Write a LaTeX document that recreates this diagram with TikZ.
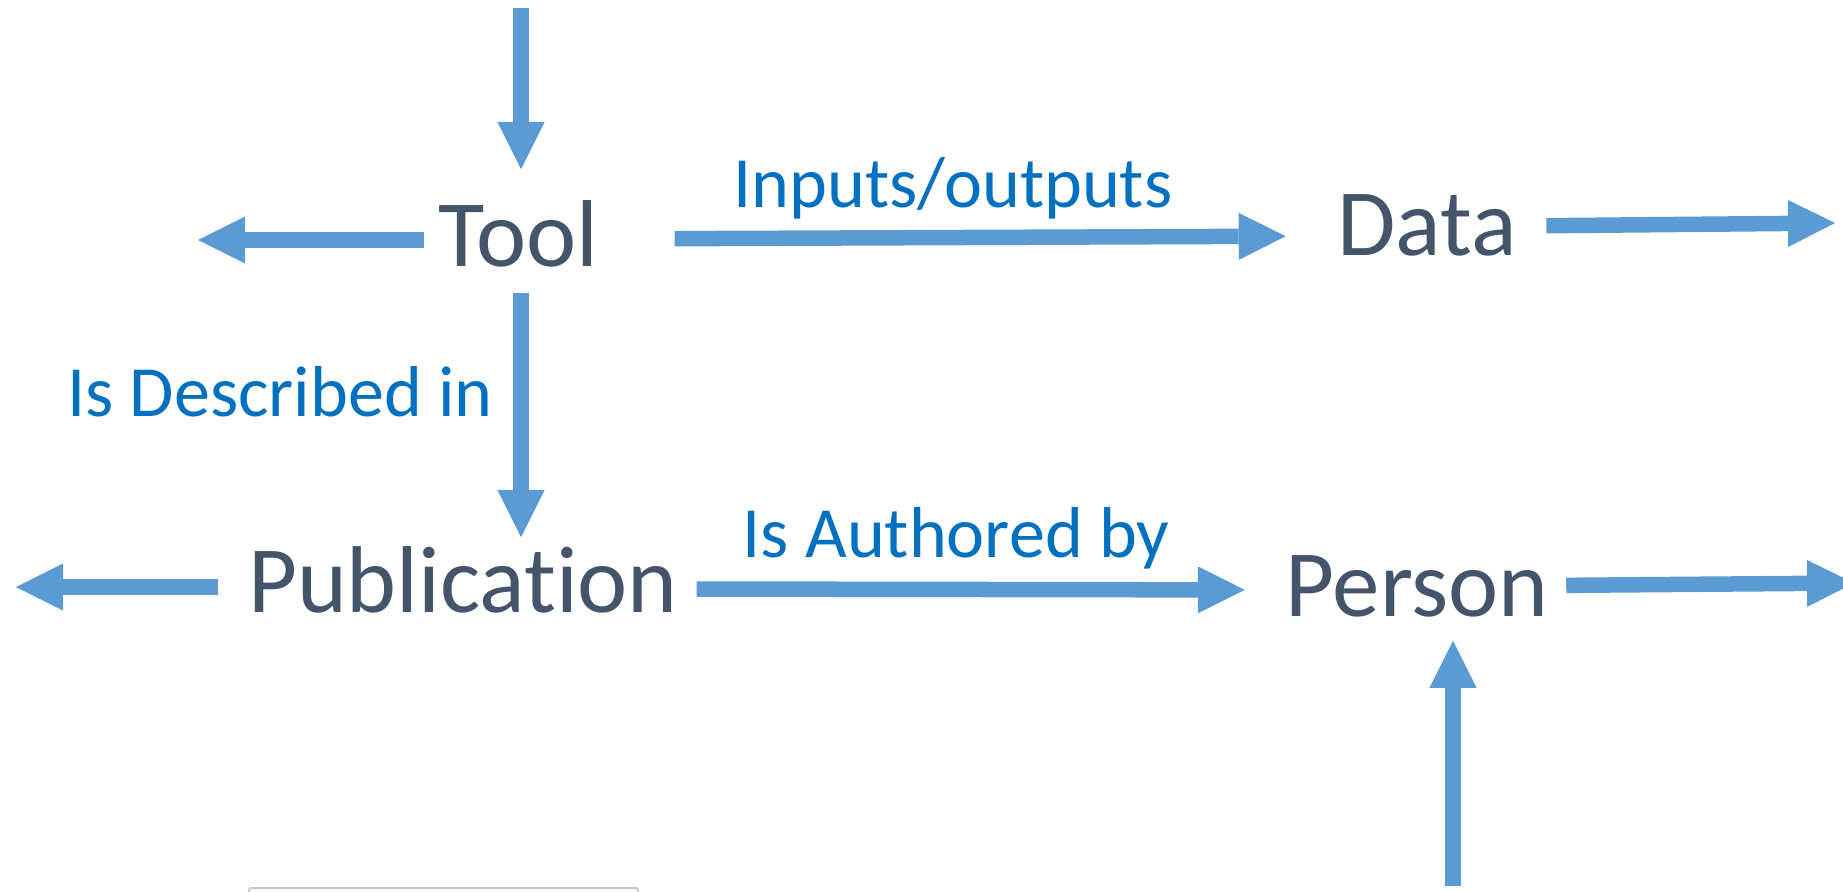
\documentclass[tikz,border=0pt]{standalone}
\usepackage{fontspec}
\setmainfont{Carlito}[Ligatures=NoCommon]
\usetikzlibrary{arrows.meta}
\definecolor{arrowblue}{HTML}{5B9BD5}
\definecolor{termgray}{HTML}{44546A}
\definecolor{relblue}{HTML}{0070C0}

\begin{document}
\begin{tikzpicture}[x=0.01cm, y=-0.01cm,
  term/.style={text=termgray, font=\fontsize{27}{32}\selectfont, inner sep=0pt,
    text height=0.69cm, text depth=0pt, anchor=base},
  rel/.style={text=relblue, font=\fontsize{20.5}{24}\selectfont, inner sep=0pt, anchor=base},
  flow/.style={draw=arrowblue, line width=1.55mm,
    -{Triangle[length=4.7mm, width=4.7mm, line width=0pt]}}]
  \useasboundingbox (0,0) rectangle (1843,891);

  \node[term] (tool) at (518,266) {Tool};
  \node[term] (data) at (1427,255) {Data};
  \node[term] (pub) at (463,612) {Publication};
  \node[term] (person) at (1417,616) {Person};

  \node[rel] (inout) at (953,208) {Inputs/outputs};
  \node[rel] (described) at (280,416) {Is Described in};
  \node[rel] (authored) at (956,557) {Is Authored by};

  % loose ends
  \coordinate (toolIn) at (521,8);
  \coordinate (toolOut) at (198,240);
  \coordinate (dataOut) at (1835,223);
  \coordinate (pubOut) at (16,587);
  \coordinate (personOut) at (1854,583);
  \coordinate (personIn) at (1453,886);

  \draw[flow, shorten >=0.27cm] (toolIn) -- (toolIn |- tool.north);
  \draw[flow, shorten <=0.13cm] (toolOut -| tool.west) -- (toolOut);
  \draw[flow, shorten <=0.76cm, shorten >=0.51cm] ([yshift=-0.075cm]tool.east) -- ([yshift=-0.155cm]data.west);
  \draw[flow, shorten <=0.29cm] ([yshift=-0.055cm]data.east) -- (dataOut);
  \draw[flow, shorten <=0.26cm, shorten >=0.05cm] (toolIn |- tool.south) -- (toolIn |- pub.north);
  \draw[flow, shorten <=0.29cm] (pubOut -| pub.west) -- (pubOut);
  \draw[flow, shorten <=0.18cm, shorten >=0.40cm] ([yshift=-0.115cm]pub.east) -- ([yshift=-0.085cm]person.west);
  \draw[flow, shorten <=0.17cm] ([yshift=-0.04cm]person.east) -- (personOut);
  \draw[flow, shorten >=0.24cm] (personIn) -- (personIn |- person.south);

  \draw[black!22, line width=0.5pt, rounded corners=0.02cm] (249,894) -- (249,888) -- (638,888) -- (638,894);
\end{tikzpicture}
\end{document}
